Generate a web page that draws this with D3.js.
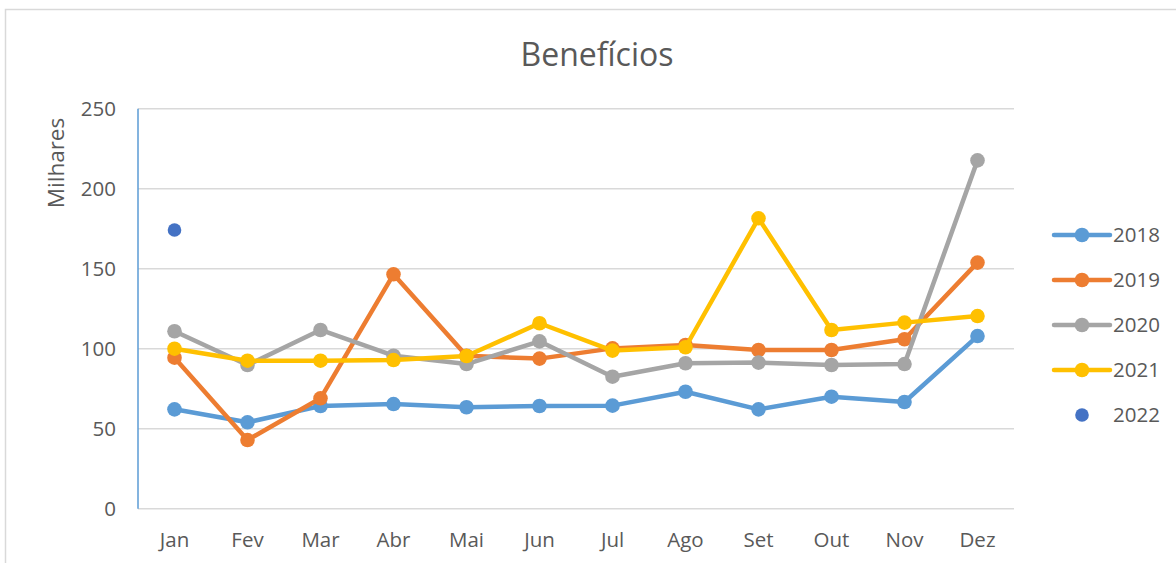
<!DOCTYPE html>
<html>
<head>
<meta charset="utf-8">
<script src="https://cdn.jsdelivr.net/npm/d3@7"></script>
<style>
  body { margin: 0; background: #fff; }
  text { font-family: "Open Sans", sans-serif; fill: #595959; }
</style>
</head>
<body>
<div id="chart"></div>
<script>
const months = ["Jan", "Fev", "Mar", "Abr", "Mai", "Jun", "Jul", "Ago", "Set", "Out", "Nov", "Dez"];
const yTicks = [0, 50, 100, 150, 200, 250];

const v2018 = [62.1, 54, 64.2, 65.4, 63.4, 64.2, 64.4, 73.1, 62.1, 70, 66.7, 107.9];
const v2019 = [94.4, 42.9, 69, 146.5, 95.6, 93.8, 100.2, 102.3, 99.2, 99.2, 105.9, 153.8];
const v2020 = [110.9, 89.8, 111.7, 95.6, 90.4, 104.6, 82.5, 90.9, 91.3, 89.8, 90.4, 217.7];
const v2021 = [100, 92.5, 92.5, 92.9, 95.4, 115.9, 98.8, 100.9, 181.5, 111.7, 116.3, 120.4];
const v2022 = [174.2];

const seriesNames = ["2018", "2019", "2020", "2021", "2022"];
const seriesColors = ["#5B9BD5", "#ED7D31", "#A5A5A5", "#FFC000", "#4472C4"];
const seriesValues = [v2018, v2019, v2020, v2021, v2022];

const W = 1176, H = 563;
const plot = {left: 138, right: 1014, top: 108.7, bottom: 508.7};

const svg = d3.select("#chart").append("svg")
    .attr("width", W)
    .attr("height", H);

// chart frame
svg.append("rect")
    .attr("x", 5.5).attr("y", 9.5)
    .attr("width", W + 10).attr("height", H + 10)
    .attr("fill", "none")
    .attr("stroke", "#d9d9d9")
    .attr("stroke-width", 1.5);

const x = d3.scaleBand()
    .domain(months)
    .range([plot.left, plot.right]);

const y = d3.scaleLinear()
    .domain([0, 250])
    .range([plot.bottom, plot.top]);

// gridlines
svg.append("g")
    .attr("class", "grid")
    .selectAll("line")
    .data(yTicks)
    .enter().append("line")
    .attr("x1", plot.left).attr("x2", plot.right)
    .attr("y1", d => y(d)).attr("y2", d => y(d))
    .attr("stroke", "#d9d9d9")
    .attr("stroke-width", 1.5);

// y axis
const yAxis = d3.axisLeft(y)
    .tickValues(yTicks)
    .tickSize(0)
    .tickPadding(22);

const gy = svg.append("g")
    .attr("transform", "translate(" + plot.left + ",0)")
    .call(yAxis);
gy.select(".domain").remove();
gy.selectAll("text")
    .attr("font-size", 20.5)
    .attr("dy", "0.35em")
    .attr("font-family", null);

svg.append("line")
    .attr("x1", plot.left).attr("x2", plot.left)
    .attr("y1", plot.top).attr("y2", plot.bottom)
    .attr("stroke", "#5B9BD5")
    .attr("stroke-width", 1.5);

// x axis
const xAxis = d3.axisBottom(x)
    .tickSize(0)
    .tickPadding(24);

const gx = svg.append("g")
    .attr("transform", "translate(0," + plot.bottom + ")")
    .call(xAxis);
gx.select(".domain").remove();
gx.selectAll("text")
    .attr("font-size", 20.5)
    .attr("font-family", null);

// axis title
svg.append("text")
    .attr("transform", "translate(64,163) rotate(-90)")
    .attr("text-anchor", "middle")
    .attr("font-size", 22.5)
    .text("Milhares");

// title
svg.append("text")
    .attr("x", 597)
    .attr("y", 66)
    .attr("text-anchor", "middle")
    .attr("font-size", 32)
    .text("Benefícios");

const cx = i => x(months[i]) + x.bandwidth() / 2;

const line = d3.line()
    .x((d, i) => cx(i))
    .y(d => y(d));

// series
seriesValues.forEach((vals, s) => {
    const g = svg.append("g").attr("class", "series s" + seriesNames[s]);
    if (s < 4) {
        g.append("path")
            .datum(vals)
            .attr("d", line)
            .attr("fill", "none")
            .attr("stroke", seriesColors[s])
            .attr("stroke-width", 4.5)
            .attr("stroke-linejoin", "round")
            .attr("stroke-linecap", "round");
    }
    g.selectAll("circle")
        .data(vals)
        .enter().append("circle")
        .attr("cx", (d, i) => cx(i))
        .attr("cy", d => y(d))
        .attr("r", s < 4 ? 7.3 : 6.8)
        .attr("fill", seriesColors[s]);
});

// legend
const legend = svg.append("g")
    .attr("class", "legend")
    .attr("transform", "translate(1054,235)");

const items = legend.selectAll("g")
    .data(seriesNames)
    .enter().append("g")
    .attr("transform", (d, i) => "translate(0," + i * 45 + ")");

items.filter((d, i) => i < 4)
    .append("line")
    .attr("x1", 0).attr("x2", 56)
    .attr("stroke", (d, i) => seriesColors[i])
    .attr("stroke-width", 4.5)
    .attr("stroke-linecap", "round");

items.append("circle")
    .attr("cx", 28)
    .attr("r", (d, i) => i < 4 ? 7.3 : 6.8)
    .attr("fill", (d, i) => seriesColors[i]);

items.append("text")
    .attr("x", 59)
    .attr("dy", "0.35em")
    .attr("font-size", 20.5)
    .text(d => d);
</script>
</body>
</html>
